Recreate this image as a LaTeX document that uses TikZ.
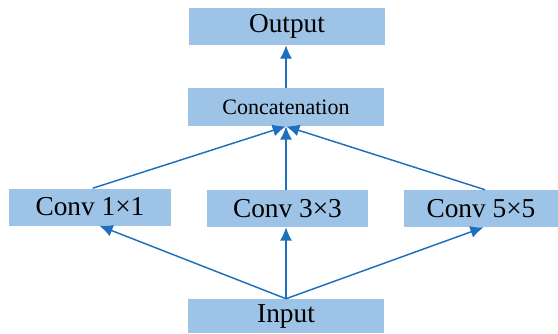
\documentclass[tikz,border=0pt]{standalone}
\usepackage{fontspec}
\setmainfont{Liberation Serif}
\usetikzlibrary{arrows.meta}
\definecolor{boxblue}{RGB}{157,195,230}
\definecolor{arrowblue}{RGB}{30,112,190}
\tikzset{block/.style={fill=boxblue, inner sep=0pt, font=\fontsize{20.5}{24}\selectfont}}
\tikzset{arrow/.style={-{Latex[length=10pt,width=9pt]}, draw=arrowblue, fill=arrowblue, line width=1.1pt}}

\begin{document}
\begin{tikzpicture}[x=0.75pt, y=0.75pt]
      \useasboundingbox (0,0) rectangle (558,333);
      \node[block, minimum width=147pt, minimum height=27.75pt] (out) at (287, 306.5) {Output};
      \node[block, minimum width=147pt, minimum height=28.5pt, font=\fontsize{16.5}{20}\selectfont] (cat) at (286, 226) {Concatenation};
      \node[block, minimum width=121.5pt, minimum height=27.75pt] (c1) at (90, 126) {Conv 1×1};
      \node[block, minimum width=120.75pt, minimum height=27.75pt] (c3) at (287.5, 124.5) {Conv 3×3};
      \node[block, minimum width=115.5pt, minimum height=27.75pt] (c5) at (481, 124.5) {Conv 5×5};
      \node[block, minimum width=147pt, minimum height=25.5pt] (in) at (286, 17) {Input};

      \draw[arrow] (cat.north) -- (cat.north |- out.south);
      \draw[arrow] ([xshift=2pt]c1.north) -- (cat.south);
      \draw[arrow] (c3.north -| cat.south) -- (cat.south);
      \draw[arrow] ([xshift=3pt]c5.north) -- (cat.south);
      \draw[arrow] (in.north) -- ([xshift=7pt]c1.south);
      \draw[arrow] (in.north) -- (in.north |- c3.south);
      \draw[arrow] (in.north) -- ([xshift=2pt]c5.south);
\end{tikzpicture}
\end{document}
